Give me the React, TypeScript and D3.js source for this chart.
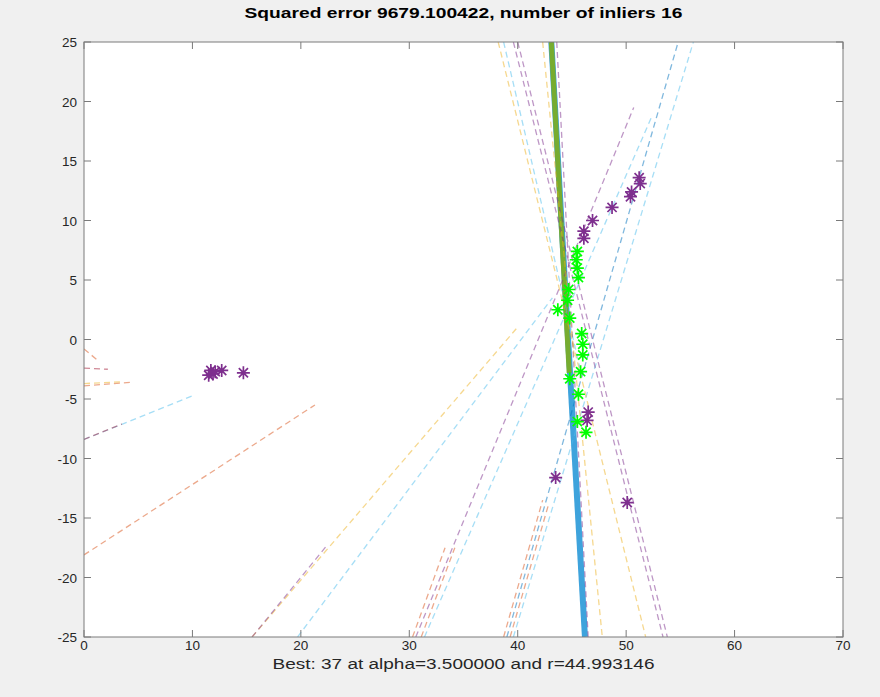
import React from 'react';
import * as d3 from 'd3';

// figure text
const title = 'Squared error 9679.100422, number of inliers 16';
const xLabel = 'Best: 37 at alpha=3.500000 and r=44.993146';

// axis ticks
const xTicks = [0, 10, 20, 30, 40, 50, 60, 70];
const yTicks = [-25, -20, -15, -10, -5, 0, 5, 10, 15, 20, 25];

// MATLAB default colour order
const colorOrder = ['#0072BD', '#D95319', '#EDB120', '#7E2F8E', '#77AC30', '#4DBEEE', '#A2142F'];

// candidate lines from the ransac iterations: x1, y1, x2, y2, colour index
const candidateLines: [number, number, number, number, number][] = [
  [0, -18.1, 21.3, -5.5, 1],
  [0, -8.4, 10.1, -4.7, 5],
  [0, -8.4, 3.5, -7.1, 6],
  [0, -0.8, 1.2, -1.7, 1],
  [0, -2.4, 2.2, -2.5, 6],
  [0, -3.9, 4.3, -3.6, 1],
  [0, -3.7, 3.6, -3.55, 2],
  [15.5, -25, 40.0, 1.05, 2],
  [15.5, -25, 22.5, -17.2, 3],
  [19.7, -25, 43.2, 3.5, 5],
  [30.6, -25, 50.7, 19.5, 3],
  [31.4, -25, 52.3, 18.6, 5],
  [30.3, -25, 33.3, -17.5, 1],
  [31.1, -25, 34.2, -17.5, 1],
  [39.0, -25, 54.8, 25, 0],
  [39.6, -25, 56.2, 25, 5],
  [38.7, -25, 42.3, -13.5, 1],
  [39.3, -25, 42.8, -14, 1],
  [38.2, 25, 51.8, -25, 2],
  [38.7, 25, 45.9, -3, 5],
  [39.6, 25, 53.4, -25, 3],
  [40.0, 25, 53.8, -25, 3],
  [43.6, 25, 46.5, -25, 3],
  [42.3, 25, 47.8, -25, 2],
];

// best line and the fit through the inliers
const bestLineX = [43.1, 46.2];
const bestLineY = [25, -25];
const inlierFitX = [43.1, 44.75];
const inlierFitY = [25, -2.8];

// points
const inlierX = [45.5, 45.4, 45.5, 45.6, 44.7, 44.6, 43.7, 44.8, 45.9, 46.0, 46.0, 45.8, 44.8, 45.6, 45.5, 46.3];
const inlierY = [7.4, 6.7, 6.0, 5.2, 4.2, 3.3, 2.5, 1.8, 0.5, -0.4, -1.3, -2.7, -3.3, -4.6, -6.9, -7.8];
const outlierX = [11.5, 11.7, 11.9, 12.1, 12.7, 14.7, 43.5, 46.5, 46.4, 50.1, 46.1, 46.1, 46.9, 48.7, 50.4, 50.5, 51.2, 51.3];
const outlierY = [-3.0, -2.6, -2.9, -2.7, -2.6, -2.8, -11.6, -6.1, -6.8, -13.7, 8.5, 9.1, 10.0, 11.1, 12.0, 12.4, 13.6, 13.1];

const W = 880;
const H = 697;
const left = 84, right = 843, top = 42, bottom = 637;
const font = 'Liberation Sans, Arial, Helvetica, sans-serif';

function asterisk(r: number) {
  const d = r * Math.SQRT1_2;
  return `M${-r},0L${r},0M0,${-r}L0,${r}M${-d},${-d}L${d},${d}M${-d},${d}L${d},${-d}`;
}

export default function App() {
  const x = d3.scaleLinear().domain([0, 70]).range([left, right]);
  const y = d3.scaleLinear().domain([-25, 25]).range([bottom, top]);
  const line = d3.line<[number, number]>().x(d => x(d[0])).y(d => y(d[1]));
  const star = asterisk(6.5);

  return (
    <svg width={W} height={H} style={{ position: 'absolute', left: 0, top: 0 }} fontFamily={font}>
      <defs>
        <clipPath id="plot">
          <rect x={left} y={top} width={right - left} height={bottom - top} />
        </clipPath>
      </defs>
      <rect width={W} height={H} fill="#f0f0f0" />
      <rect x={left} y={top} width={right - left} height={bottom - top} fill="#fff" />

      <g clipPath="url(#plot)">
        <path d={line(d3.zip(bestLineX, bestLineY) as [number, number][]) || ''} stroke="#3ea3dc" strokeWidth={6} fill="none" />
        <path d={line(d3.zip(inlierFitX, inlierFitY) as [number, number][]) || ''} stroke="#77AC30" strokeWidth={5} fill="none" />
        {candidateLines.map((l, i) => (
          <path key={i} d={line([[l[0], l[1]], [l[2], l[3]]]) || ''} stroke={colorOrder[l[4]]}
            strokeOpacity={0.5} strokeWidth={1.3} strokeDasharray="6,4" fill="none" />
        ))}
        {outlierX.map((v, i) => (
          <path key={'o' + i} d={star} transform={`translate(${x(v)},${y(outlierY[i])})`}
            stroke="#7E2F8E" strokeWidth={1.7} fill="none" />
        ))}
        {inlierX.map((v, i) => (
          <path key={'g' + i} d={star} transform={`translate(${x(v)},${y(inlierY[i])})`}
            stroke="#00ff00" strokeWidth={1.7} fill="none" />
        ))}
      </g>

      <rect x={left} y={top} width={right - left} height={bottom - top} fill="none" stroke="#7a7a7a" strokeWidth={1} />
      {xTicks.map(t => (
        <g key={'x' + t}>
          <line x1={x(t)} x2={x(t)} y1={bottom} y2={bottom - 7} stroke="#7a7a7a" />
          <line x1={x(t)} x2={x(t)} y1={top} y2={top + 7} stroke="#7a7a7a" />
          <text x={x(t)} y={bottom + 13} textAnchor="middle" fontSize={13.5} fill="#262626">{t}</text>
        </g>
      ))}
      {yTicks.map(t => (
        <g key={'y' + t}>
          <line x1={left} x2={left + 7} y1={y(t)} y2={y(t)} stroke="#7a7a7a" />
          <line x1={right} x2={right - 7} y1={y(t)} y2={y(t)} stroke="#7a7a7a" />
          <text x={left - 7} y={y(t) + 5} textAnchor="end" fontSize={13.5} fill="#262626">{t}</text>
        </g>
      ))}

      <text x={(left + right) / 2} y={18} textAnchor="middle" fontSize={15} fontWeight="bold" fill="#000"
        textLength={438} lengthAdjust="spacingAndGlyphs">{title}</text>
      <text x={(left + right) / 2} y={669} textAnchor="middle" fontSize={14} fill="#262626"
        textLength={382} lengthAdjust="spacingAndGlyphs">{xLabel}</text>
    </svg>
  );
}
